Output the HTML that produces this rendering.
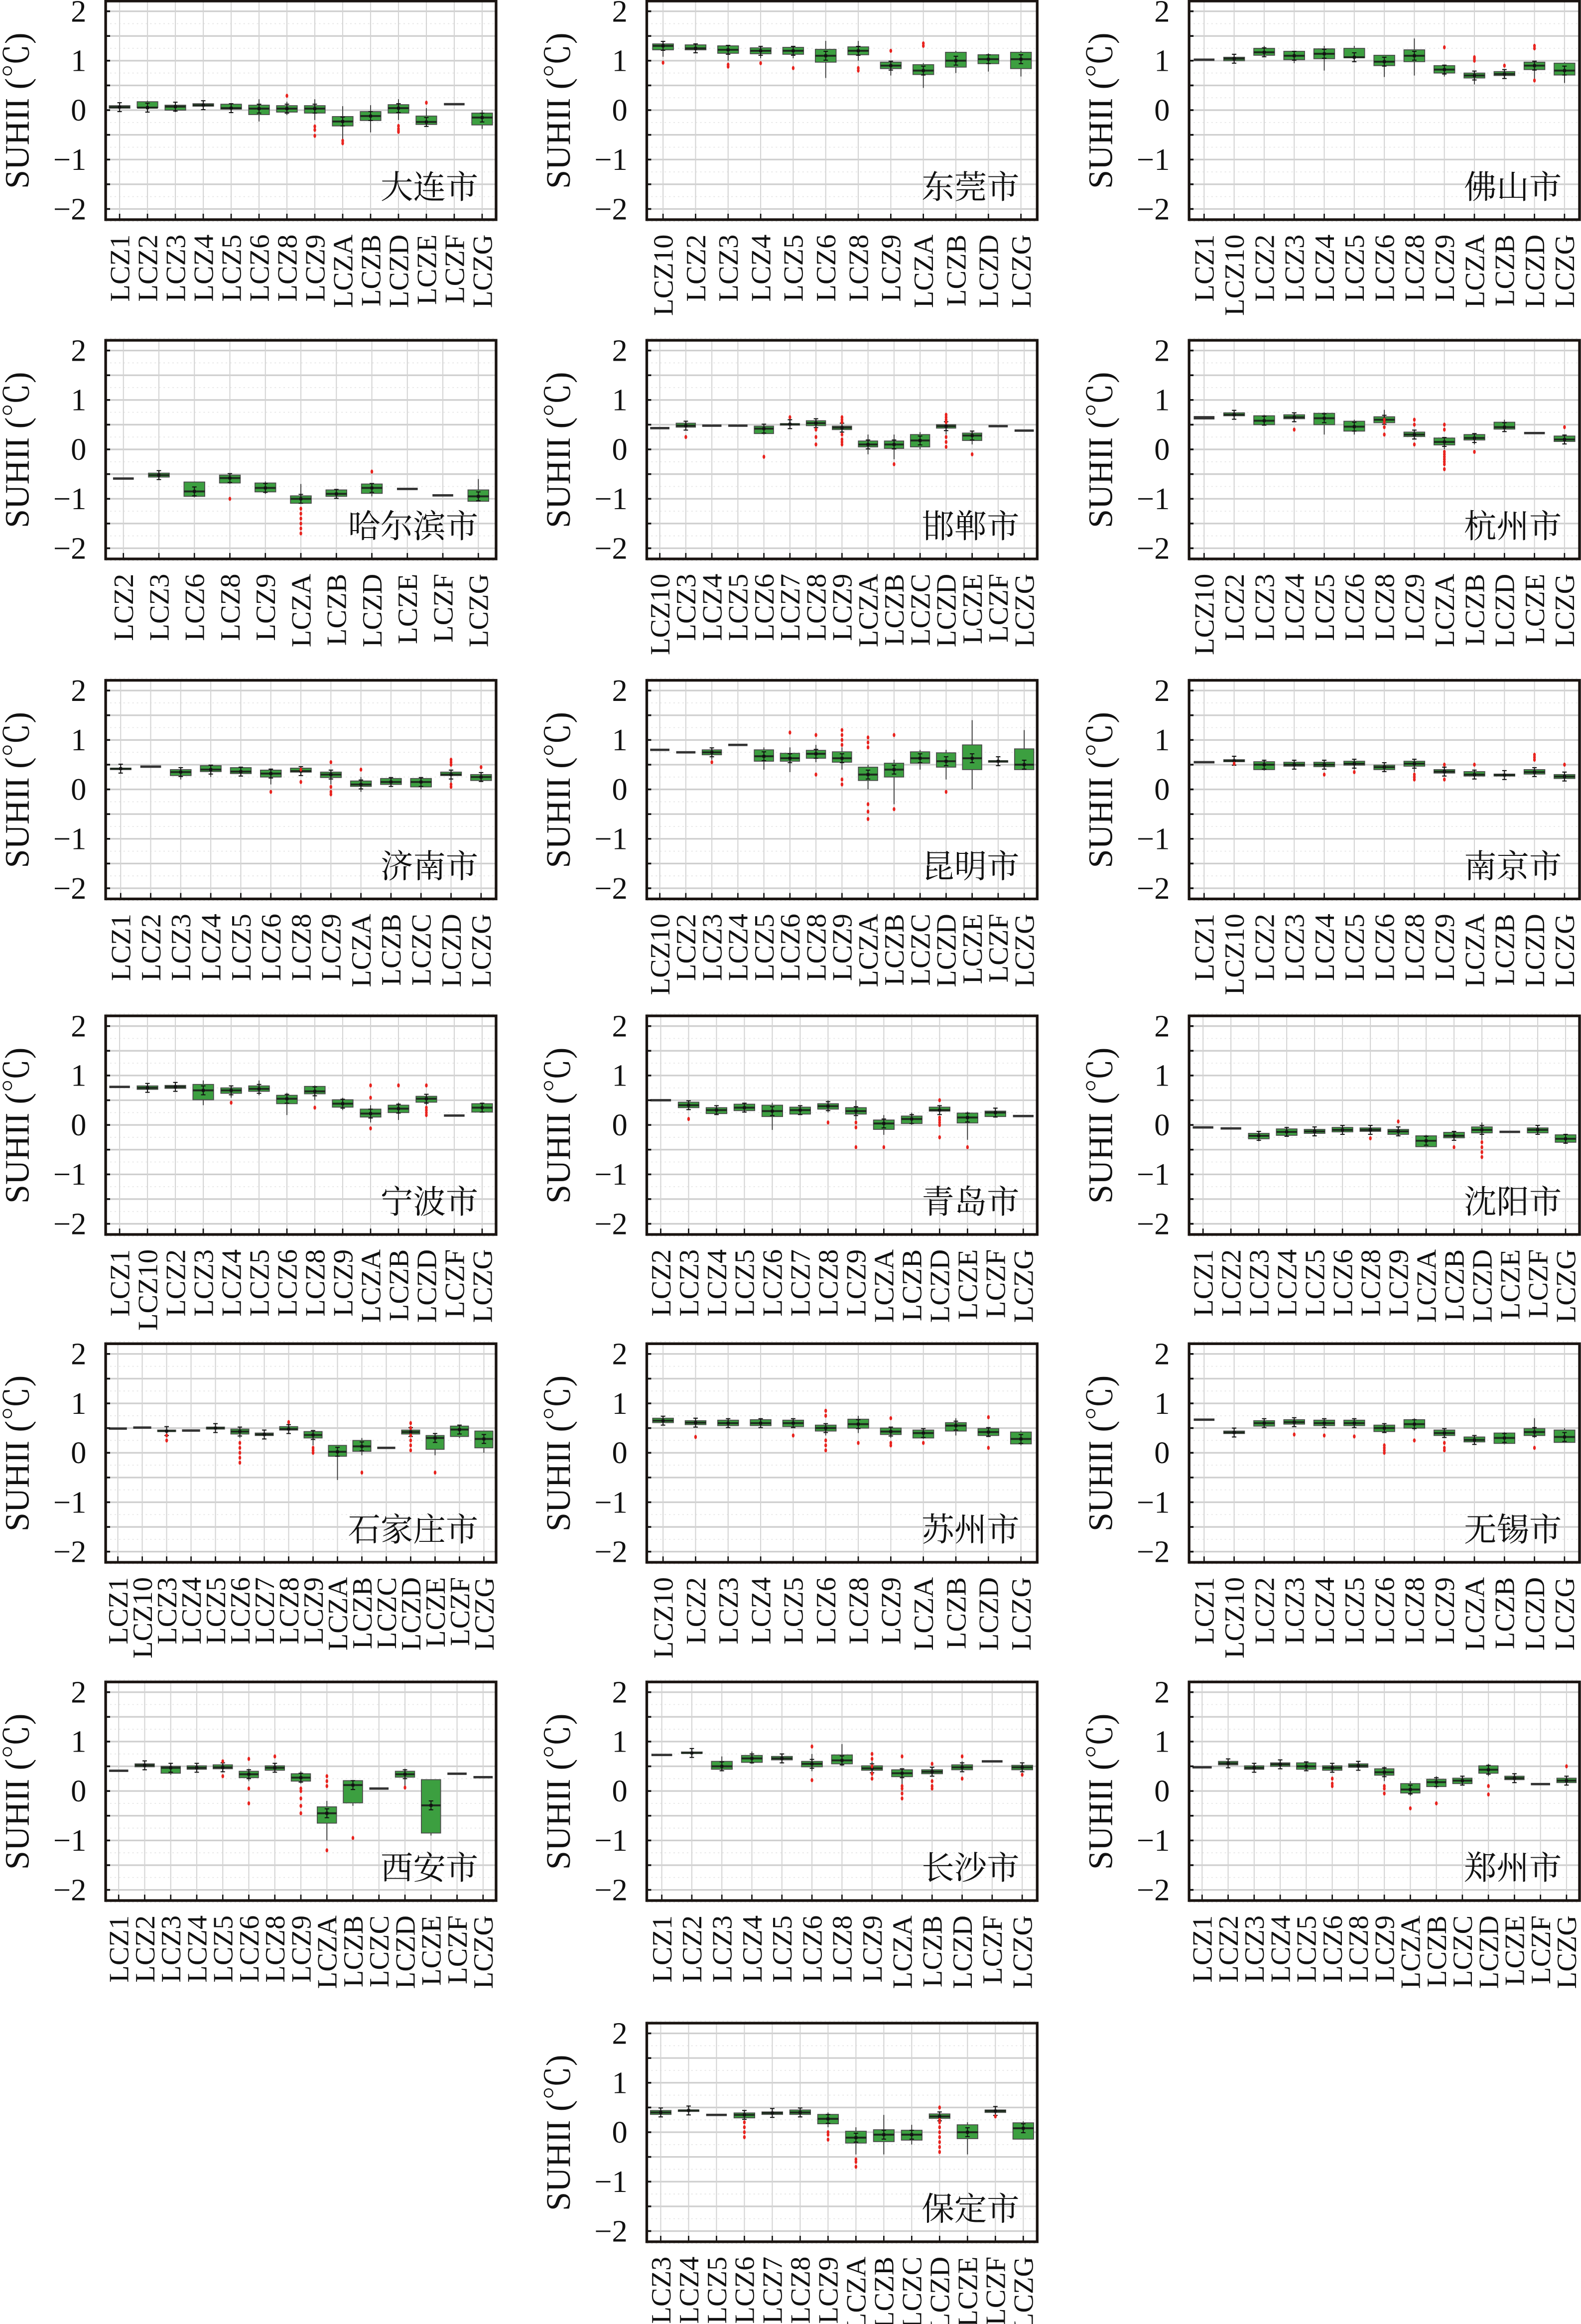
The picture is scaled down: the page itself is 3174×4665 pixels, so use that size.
<!DOCTYPE html>
<html><head><meta charset="utf-8"><style>
html,body{margin:0;padding:0;background:#fff;}
svg{display:block;}
</style></head><body>
<svg id="s" xmlns="http://www.w3.org/2000/svg" width="3174" height="4665" viewBox="0 0 1067 1568" preserveAspectRatio="none"></svg>
<script>
const P=[
{t:'大连市',r:0,c:0,k:'1 2 3 4 5 6 8 9 A B D E F G',d:[
[.09,.04,.06,.1,.02],[.17,.05,.05,.19,.04],[.1,0,.07,.14,-.04],[.13,.08,.1,.14,.05],[.12,.02,.04,.14,.01],[.1,-.09,.03,.22,-.23],[.09,-.04,.03,.17,-.1,[.29]],[.09,-.06,.03,.22,-.2,[-.33,-.4,-.52]],[-.13,-.32,-.23,.08,-.58,[-.62,-.67]],[-.03,-.21,-.12,.1,-.45],[.11,-.06,.04,.22,-.2,[-.32,-.38,-.42,-.44]],[-.12,-.29,-.24,.04,-.3,[.15]],[.12,.12,.12,.12,.12],[-.06,-.3,-.15,0,-.38]]},
{t:'东莞市',r:0,c:1,k:'10 2 3 4 5 6 8 9 A B D G',d:[
[1.34,1.22,1.3,1.37,1.08,[.96]],[1.32,1.22,1.25,1.33,1.2],[1.3,1.15,1.22,1.3,1.0,[.92,.88]],[1.26,1.14,1.2,1.27,1.05,[.95]],[1.27,1.13,1.2,1.3,1.05,[.85]],[1.23,.97,1.1,1.4,.65],[1.28,1.12,1.2,1.4,1.0,[.8,.85]],[.97,.84,.9,1.0,.7,[1.2]],[.92,.72,.8,.95,.45,[1.3,1.35]],[1.17,.87,1.0,1.2,.75],[1.12,.94,1.03,1.15,.78],[1.17,.84,1.03,1.2,.68]]},
{t:'佛山市',r:0,c:2,k:'1 10 2 3 4 5 6 8 9 A B D G',d:[
[1.02,1.02,1.02,1.02,1.02],[1.07,1.0,1.04,1.08,.99],[1.25,1.11,1.17,1.3,1.08],[1.19,1.02,1.1,1.2,.95],[1.24,1.04,1.14,1.3,.8],[1.25,1.06,1.07,1.3,1.05],[1.11,.9,.98,1.1,.67],[1.22,.98,1.1,1.45,.7],[.9,.75,.82,.92,.68,[1.27]],[.75,.65,.7,.78,.52,[1.0,1.04,1.07]],[.78,.7,.73,.8,.65,[.9]],[.97,.82,.9,1.0,.6,[1.3,1.25,.6]],[.95,.71,.8,.97,.55]]},
{t:'哈尔滨市',r:1,c:0,k:'2 3 6 8 9 A B D E F G',d:[
[-.59,-.59,-.59,-.59,-.59],[-.48,-.56,-.52,-.43,-.58],[-.66,-.95,-.85,-.65,-.97],[-.52,-.68,-.58,-.5,-.7,[-1.0]],[-.68,-.86,-.78,-.65,-.9],[-.94,-1.09,-1.0,-.7,-1.1,[-1.2,-1.3,-1.4,-1.5,-1.6,-1.7]],[-.82,-.95,-.9,-.8,-1.0],[-.7,-.89,-.78,-.7,-.95,[-.45]],[-.8,-.8,-.8,-.8,-.8],[-.93,-.93,-.93,-.93,-.93],[-.82,-1.05,-.95,-.6,-1.05]]},
{t:'邯郸市',r:1,c:1,k:'10 3 4 5 6 7 8 9 A B C D E F G',d:[
[.43,.43,.43,.43,.43],[.53,.45,.48,.55,.44,[.25]],[.48,.48,.48,.48,.48],[.48,.48,.48,.48,.48],[.47,.32,.42,.5,.3,[-.15]],[.52,.49,.51,.6,.48,[.65]],[.58,.48,.53,.6,.45,[.1,.25,.4]],[.47,.4,.44,.5,.3,[.1,.15,.2,.3,.55,.6,.65]],[.17,.05,.1,.3,-.1],[.17,.02,.1,.3,-.2,[-.3]],[.3,.05,.18,.35,0],[.5,.43,.47,.55,.3,[.55,.6,.65,.7,.05,.15,.25]],[.33,.18,.28,.35,.1,[-.1]],[.47,.47,.47,.47,.47],[.38,.38,.38,.38,.38]]},
{t:'杭州市',r:1,c:2,k:'10 2 3 4 5 6 8 9 A B D E G',d:[
[.65,.63,.64,.66,.62],[.74,.68,.7,.76,.66],[.68,.5,.58,.7,.48],[.7,.62,.65,.7,.58,[.4]],[.73,.5,.63,.75,.3],[.57,.37,.46,.6,.3],[.66,.54,.6,.8,.5,[.3,.45,.55,.6]],[.35,.26,.3,.4,.2,[.1,.5,.6]],[.23,.09,.15,.25,0,[-.05,-.1,-.15,-.2,-.25,-.3,-.4,.4,.5]],[.3,.19,.23,.3,.1,[-.05]],[.55,.41,.45,.6,.4],[.33,.33,.33,.33,.33],[.27,.16,.2,.3,.15,[.45]]]},
{t:'济南市',r:2,c:0,k:'1 2 3 4 5 6 8 9 A B C D G',d:[
[.43,.4,.42,.44,.39],[.46,.46,.46,.46,.46],[.4,.28,.35,.42,.2],[.48,.36,.4,.5,.25],[.44,.32,.36,.45,.3],[.39,.25,.32,.42,.1,[-.05]],[.43,.35,.37,.45,.3,[.15,.4]],[.35,.24,.3,.35,.1,[.05,-.05,-.1,.55]],[.17,.06,.1,.25,-.05,[.4]],[.22,.1,.15,.25,.05],[.22,.05,.15,.25,0],[.35,.28,.3,.4,.1,[.5,.55,.6,.05,.1]],[.3,.18,.25,.35,.15,[.45]]]},
{t:'昆明市',r:2,c:1,k:'10 2 3 4 5 6 8 9 A B C D E F G',d:[
[.8,.8,.8,.8,.8],[.75,.75,.75,.75,.75],[.8,.7,.75,.8,.6,[.55]],[.9,.9,.9,.9,.9],[.8,.57,.67,.85,.4],[.73,.57,.63,.85,.35,[1.15]],[.79,.63,.72,.9,.55,[.3,1.1]],[.76,.55,.63,.85,.4,[.1,.2,.9,1.0,1.1,1.2]],[.45,.18,.3,.5,0,[-.3,-.45,-.6,.85,.95,1.05]],[.53,.25,.4,.6,-.3,[1.1,-.4]],[.76,.53,.63,.8,.4],[.74,.45,.57,.8,.2,[-.05]],[.9,.4,.63,1.4,0],[.58,.55,.57,.6,.54],[.82,.4,.5,1.2,.4]]},
{t:'南京市',r:2,c:2,k:'1 10 2 3 4 5 6 8 9 A B D G',d:[
[.55,.55,.55,.55,.55],[.6,.56,.58,.61,.55,[.52]],[.56,.4,.5,.58,.38],[.55,.47,.5,.56,.45],[.55,.46,.5,.56,.4,[.3]],[.57,.49,.52,.6,.4,[.35]],[.49,.4,.45,.5,.35],[.57,.47,.52,.6,.35,[.2,.25,.3]],[.4,.33,.36,.45,.3,[.2,.5]],[.36,.27,.3,.4,.25,[.5]],[.31,.27,.29,.32,.26],[.4,.31,.35,.42,.3,[.6,.65,.7]],[.3,.22,.26,.32,.2,[.5]]]},
{t:'宁波市',r:3,c:0,k:'1 10 2 3 4 5 6 8 9 A B D F G',d:[
[.77,.77,.77,.77,.77],[.79,.72,.75,.8,.7],[.8,.74,.77,.82,.72],[.82,.51,.7,.9,.4],[.75,.64,.7,.75,.55,[.45]],[.79,.68,.73,.9,.6],[.6,.43,.53,.65,.2],[.78,.63,.68,.8,.5,[.35]],[.51,.36,.43,.55,.3],[.32,.16,.23,.4,.05,[-.07,.55,.8]],[.4,.25,.33,.45,.1,[.8]],[.58,.46,.53,.6,.4,[.2,.25,.3,.35,.8]],[.19,.19,.19,.19,.19],[.43,.26,.35,.45,.25]]},
{t:'青岛市',r:3,c:1,k:'2 3 4 5 6 7 8 9 A B D E F G',d:[
[.5,.5,.5,.5,.5],[.46,.35,.4,.46,.33,[.12]],[.35,.23,.3,.36,.22],[.42,.29,.35,.43,.28],[.4,.17,.28,.45,-.1],[.36,.22,.3,.4,.2],[.43,.32,.38,.5,.25,[.05]],[.35,.22,.28,.5,.1,[-.45,-.05,.05]],[.1,-.09,.03,.2,-.2,[-.45]],[.18,.03,.12,.25,0],[.36,.28,.3,.35,.25,[0,.05,.1,.15,.5,-.25]],[.24,.04,.15,.27,-.3,[-.45]],[.28,.17,.25,.33,.15],[.18,.18,.18,.18,.18]]},
{t:'沈阳市',r:3,c:2,k:'1 2 3 4 5 6 8 9 A B D E F G',d:[
[-.05,-.05,-.05,-.05,-.05],[-.07,-.07,-.07,-.07,-.07],[-.17,-.28,-.22,-.15,-.33],[-.08,-.21,-.14,-.06,-.23],[-.09,-.17,-.13,-.07,-.19],[-.05,-.14,-.1,-.03,-.15],[-.06,-.13,-.1,-.04,-.15,[-.27]],[-.09,-.19,-.13,-.06,-.21,[.07]],[-.22,-.44,-.32,-.2,-.45],[-.15,-.26,-.22,-.13,-.28,[-.45]],[-.04,-.16,-.1,.05,-.3,[-.35,-.45,-.55,-.65]],[-.14,-.14,-.14,-.14,-.14],[-.06,-.16,-.1,-.03,-.18],[-.2,-.35,-.28,-.2,-.38]]},
{t:'石家庄市',r:4,c:0,k:'1 10 3 4 5 6 7 8 9 A B C D E F G',d:[
[.49,.49,.49,.49,.49],[.51,.51,.51,.51,.51],[.46,.43,.44,.47,.42,[.25,.35]],[.45,.45,.45,.45,.45],[.52,.48,.5,.53,.47],[.48,.38,.43,.5,.3,[-.2,-.1,0,.1,.2]],[.4,.35,.37,.41,.34],[.53,.46,.48,.55,.45,[.62]],[.43,.3,.36,.45,.15,[0,.05,.1]],[.15,-.07,.02,.1,-.55],[.25,.03,.13,.3,-.05,[-.4]],[.1,.1,.1,.1,.1],[.46,.38,.42,.48,.35,[.05,.15,.25,.35,.5,.6]],[.35,.07,.3,.35,-.05,[-.4]],[.54,.33,.47,.55,.3],[.44,.1,.28,.45,0]]},
{t:'苏州市',r:4,c:1,k:'10 2 3 4 5 6 8 9 A B D G',d:[
[.7,.61,.65,.72,.6],[.65,.57,.61,.66,.55,[.32]],[.66,.55,.6,.7,.5],[.67,.55,.6,.7,.52],[.66,.53,.6,.68,.5,[.35]],[.56,.44,.5,.55,.35,[.05,.15,.25,.75,.85]],[.68,.5,.58,.75,.4,[.2]],[.5,.37,.43,.5,.3,[.15,.2,.7]],[.46,.3,.4,.48,.28,[.2]],[.61,.44,.55,.7,.35],[.49,.35,.42,.5,.32,[.1,.72]],[.42,.18,.28,.45,.15]]},
{t:'无锡市',r:4,c:2,k:'1 10 2 3 4 5 6 8 9 A B D G',d:[
[.67,.67,.67,.67,.67],[.44,.39,.41,.45,.38],[.65,.54,.6,.67,.52],[.67,.58,.62,.7,.55,[.37]],[.66,.55,.6,.68,.5,[.35]],[.66,.55,.6,.68,.5,[.33]],[.56,.43,.5,.58,.4,[0,.05,.1,.15]],[.67,.5,.58,.7,.45,[.25]],[.46,.35,.4,.48,.3,[.05,.1,.2]],[.32,.22,.26,.34,.2],[.4,.19,.3,.42,.17],[.49,.35,.42,.7,.3,[.1]],[.46,.21,.32,.5,.2]]},
{t:'西安市',r:5,c:0,k:'1 2 3 4 5 6 8 9 A B C D E F G',d:[
[.41,.41,.41,.41,.41],[.55,.49,.52,.56,.48],[.5,.36,.47,.5,.33],[.51,.44,.47,.52,.43],[.53,.45,.48,.55,.43,[.3,.6]],[.4,.27,.34,.45,.2,[-.25,.05,.65]],[.51,.42,.47,.55,.4,[.7]],[.35,.2,.27,.4,.15,[-.45,-.3,-.15,0,.05]],[-.32,-.65,-.45,-.2,-1.0,[-1.2,.1,.2,.3]],[.21,-.24,.12,.22,-.3,[-.95]],[.05,.05,.05,.05,.05],[.4,.28,.34,.45,.1,[.07]],[.23,-.85,-.29,.23,-.9],[.35,.35,.35,.35,.35],[.28,.28,.28,.28,.28]]},
{t:'长沙市',r:5,c:1,k:'1 2 3 4 5 6 8 9 A B D F G',d:[
[.73,.73,.73,.73,.73],[.79,.76,.77,.8,.75],[.6,.44,.5,.7,.42],[.72,.58,.66,.8,.55],[.7,.63,.66,.72,.62],[.6,.49,.55,.75,.4,[.22,.9]],[.73,.55,.62,.95,.5],[.51,.42,.46,.6,.3,[.25,.35,.5,.65,.75]],[.43,.29,.36,.45,0,[-.15,-.05,.05,.1,.7]],[.43,.35,.39,.45,.3,[.05,.1,.2,.55]],[.53,.43,.48,.6,.4,[.25,.7]],[.6,.6,.6,.6,.6],[.52,.43,.48,.54,.4,[.33]]]},
{t:'郑州市',r:5,c:2,k:'1 2 3 4 5 6 8 9 A B C D E F G',d:[
[.48,.48,.48,.48,.48],[.6,.53,.56,.62,.52],[.51,.44,.47,.52,.43],[.57,.5,.54,.58,.49],[.57,.44,.5,.6,.42],[.51,.42,.47,.52,.4,[.1,.15,.25]],[.55,.48,.51,.6,.45],[.45,.32,.38,.5,.2,[-.05,.05,.1]],[.15,-.04,.03,.2,-.1,[-.35]],[.24,.09,.18,.3,.05,[-.25]],[.26,.15,.21,.28,.13],[.51,.36,.43,.55,.3,[-.07,.1]],[.3,.23,.26,.31,.22],[.14,.14,.14,.14,.14],[.26,.17,.21,.3,.15,[.5]]]},
{t:'保定市',r:6,c:1,k:'3 4 5 6 7 8 9 A B C D E F G',d:[
[.44,.36,.4,.46,.35],[.45,.42,.44,.46,.41],[.35,.35,.35,.35,.35],[.39,.29,.35,.41,.28,[-.1,0,.1,.2]],[.41,.36,.39,.42,.35],[.45,.36,.4,.46,.35],[.36,.17,.27,.4,.1,[-.15,-.05,0]],[.02,-.22,-.11,.1,-.45,[-.55,-.6,-.7]],[.05,-.19,-.05,.35,-.45],[.04,-.16,-.05,.15,-.25],[.37,.28,.32,.38,.26,[-.4,-.3,-.2,-.1,0,.1,.2,.25,.5]],[.15,-.13,0,.2,-.45],[.45,.4,.43,.46,.38,[.32]],[.19,-.14,.08,.22,-.15]]}
];
const Ls=[71.3,436.5,802.5],W=263.5,Tops=[0.7,229.6,459,685.4,906.6,1134.8,1365],H=147.5;
let o='';
const F=`font-family="'Liberation Serif','Noto Serif CJK SC',serif"`;
for(const p of P){
 const L=Ls[p.c],T=Tops[p.r],R=L+W,B=T+H;
 const y=v=>T+73.6-v*33.35;
 const cats=p.k.split(' ').map(s=>'LCZ'+s),n=cats.length,st=W/n;
 const x=i=>L+(i+0.5)*st;
 o+=`<rect x="${L}" y="${T}" width="${W}" height="${H}" fill="#fff"/>`;
 for(let v=-2.25;v<=2.26;v+=0.25){
   const yy=y(v).toFixed(2);
   if(Math.abs(v*2-Math.round(v*2))<1e-6) o+=`<line x1="${L}" x2="${R}" y1="${yy}" y2="${yy}" stroke="#cfcfcf" stroke-width="1.1"/>`;
   else o+=`<line x1="${L}" x2="${R}" y1="${yy}" y2="${yy}" stroke="#e6e6e6" stroke-width="0.6" stroke-dasharray="1,2"/>`;
 }
 for(let i=0;i<n;i++){const xx=x(i).toFixed(2);o+=`<line x1="${xx}" x2="${xx}" y1="${T}" y2="${B}" stroke="#d4d4d4" stroke-width="0.7"/>`;}
 const bw=Math.min(14,st*0.74);
 p.d.forEach((d,i)=>{
   const [q3,q1,md,wh,wl,out]=d, cx=x(i);
   o+=`<line x1="${cx}" x2="${cx}" y1="${y(wh)}" y2="${y(wl)}" stroke="#333" stroke-width="0.6"/>`;
   if(q3-q1<0.025){
     o+=`<rect x="${cx-bw/2}" y="${y(q3)-0.8}" width="${bw}" height="${Math.max(1.6,y(q1)-y(q3)+1.6)}" fill="#333"/>`;
   } else {
     o+=`<rect x="${cx-bw/2}" y="${y(q3)}" width="${bw}" height="${y(q1)-y(q3)}" fill="#3c9f40" stroke="#4a4a4a" stroke-width="0.6"/>`;
     o+=`<line x1="${cx-bw/2}" x2="${cx+bw/2}" y1="${y(md)}" y2="${y(md)}" stroke="#1e2a1e" stroke-width="1.3"/>`;
     o+=`<line x1="${cx}" x2="${cx}" y1="${y(md)-3}" y2="${y(md)+3}" stroke="#111" stroke-width="0.7"/><line x1="${cx-1.5}" x2="${cx+1.5}" y1="${y(md)-3}" y2="${y(md)-3}" stroke="#111" stroke-width="0.7"/><line x1="${cx-1.5}" x2="${cx+1.5}" y1="${y(md)+3}" y2="${y(md)+3}" stroke="#111" stroke-width="0.7"/><rect x="${cx-1}" y="${y(md)-1}" width="2" height="2" fill="#111"/>`;
   }
   if(out) out.forEach(v=>{o+=`<ellipse cx="${cx}" cy="${y(v)}" rx="0.9" ry="1.4" fill="#e8231e"/>`;});
 });
 for(let v=-2;v<=2.01;v+=0.5){const yy=y(v);o+=`<line x1="${L}" x2="${L+3}" y1="${yy}" y2="${yy}" stroke="#111" stroke-width="1.2"/>`;}
 for(let i=0;i<n;i++){o+=`<line x1="${x(i)}" x2="${x(i)}" y1="${B}" y2="${B-4}" stroke="#111" stroke-width="0.9"/>`;}
 o+=`<rect x="${L}" y="${T}" width="${W}" height="${H}" fill="none" stroke="#1a1411" stroke-width="1.8"/>`;
 for(let v=-2;v<=2;v++){o+=`<text x="${L-13}" y="${y(v)+7}" ${F} font-size="21" text-anchor="end" fill="#111">${v<0?'\u2212'+(-v):v}</text>`;}
 const lx=L-61,ly=T+74;
 o+=`<text transform="translate(${lx+9},${ly}) rotate(-90)" ${F} font-size="23" text-anchor="middle" fill="#111">SUHII (℃)</text>`;
 cats.forEach((c,i)=>{o+=`<text transform="translate(${x(i)+6.5},${B+10}) rotate(-90)" ${F} font-size="19" text-anchor="end" fill="#111">${c}</text>`;});
 o+=`<text x="${R-12}" y="${T+133}" font-family="'Noto Serif CJK SC','Noto Sans CJK SC',serif" font-size="22" text-anchor="end" fill="#111">${p.t}</text>`;
}
document.getElementById('s').innerHTML=o;
</script>
</body></html>
